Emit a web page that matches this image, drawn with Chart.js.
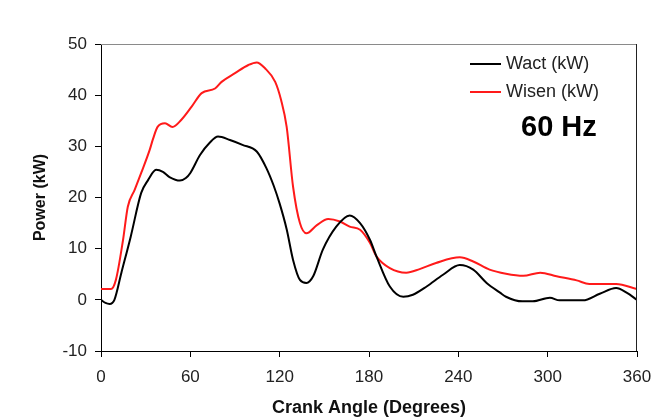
<!DOCTYPE html>
<html>
<head>
<meta charset="utf-8">
<script src="https://cdn.jsdelivr.net/npm/chart.js@4/dist/chart.umd.min.js"></script>
<style>
html,body{margin:0;padding:0;background:#fff;}
canvas{display:block;}
</style>
</head>
<body>
<canvas id="c" width="654" height="419"></canvas>
<script>
const seriesNames = ["Wact (kW)", "Wisen (kW)"];
const annotationText = "60 Hz";
const xTitle = "Crank Angle (Degrees)";
const yTitle = "Power (kW)";

const wactAngles = [0, 3, 5.8, 9, 13.7, 20, 27, 31.6, 37, 41.6, 46, 53, 57, 60, 66.5, 73, 78.6, 86.6, 95, 104.6, 111, 116, 120, 124.7, 129, 133.6, 138, 142.5, 149, 158, 167, 174, 180.7, 185, 194, 203, 209.5, 218.7, 229.7, 241, 250, 259, 268, 272, 283, 290, 301.5, 308, 323.7, 335, 346, 353, 360];
const wactValues = [0, -0.6, -0.8, 0, 5.3, 12.4, 20.9, 23.4, 25.4, 25, 24, 23.3, 23.8, 24.8, 28.3, 30.7, 31.9, 31.25, 30.3, 29, 25.8, 22.3, 18.8, 13.8, 7.8, 3.9, 3.3, 4.6, 9.8, 14.3, 16.5, 15, 11.7, 8.5, 2.6, 0.6, 1, 2.6, 4.9, 6.8, 5.9, 3.3, 1.4, 0.6, -0.3, -0.3, 0.4, -0.1, -0.1, 1.2, 2.3, 1.4, 0];

const wisenAngles = [0, 6.7, 10, 14.8, 18, 22.6, 27, 32.7, 35, 38, 43, 48, 54, 61, 67.6, 76.6, 81, 90, 99, 104.6, 110, 117, 121, 124.7, 129, 133.6, 138, 145, 152.6, 160.5, 167, 174, 180.7, 185, 194, 205, 214, 225, 241, 250, 261, 272, 283.6, 295, 306, 319.5, 328, 346, 360];
const wisenValues = [2.1, 2.1, 3.9, 11.7, 18.2, 21.5, 24.8, 29.3, 31.5, 33.8, 34.5, 33.8, 35.2, 37.8, 40.4, 41.3, 42.6, 44.3, 45.9, 46.4, 45.3, 42.6, 39, 33.8, 22.1, 15, 13, 14.6, 15.8, 15.3, 14.3, 13.7, 11.1, 8.5, 6.2, 5.3, 6, 7.2, 8.3, 7.5, 5.9, 5.1, 4.7, 5.3, 4.6, 3.8, 3.1, 3.1, 2.1];

const xTicks = [0, 60, 120, 180, 240, 300, 360];
const yTicks = [-10, 0, 10, 20, 30, 40, 50];

const seriesColors = ["#000000", "#ff1a1a"];

function pts(xs, ys) { return xs.map((x, i) => ({x: x, y: ys[i]})); }

const FONT = "'Liberation Sans', Arial, sans-serif";

const overlay = {
  id: 'overlay',
  afterDraw(chart) {
    const ctx = chart.ctx;
    const a = chart.chartArea;
    ctx.save();
    ctx.lineWidth = 1;
    ctx.strokeStyle = '#8a8a8a';
    ctx.beginPath();
    ctx.moveTo(a.left, a.top + 0.5);
    ctx.lineTo(a.right, a.top + 0.5);
    ctx.stroke();
    ctx.strokeStyle = '#222';
    ctx.beginPath();
    ctx.moveTo(a.right - 0.5, a.top);
    ctx.lineTo(a.right - 0.5, a.bottom);
    ctx.stroke();
    const rows = [64, 92];
    chart.data.datasets.forEach((ds, i) => {
      const y = rows[i];
      ctx.strokeStyle = ds.borderColor;
      ctx.lineWidth = 2;
      ctx.beginPath();
      ctx.moveTo(470, y);
      ctx.lineTo(501, y);
      ctx.stroke();
      ctx.fillStyle = '#222';
      ctx.font = "18px " + FONT;
      ctx.textAlign = 'left';
      ctx.textBaseline = 'middle';
      ctx.fillText(ds.label, 506, y);
    });
    ctx.fillStyle = '#000';
    ctx.font = "bold 29px " + FONT;
    ctx.textBaseline = 'middle';
    ctx.fillText(annotationText, 521, 128);
    ctx.restore();
  }
};

new Chart(document.getElementById('c'), {
  type: 'line',
  data: {
    datasets: [
      { label: seriesNames[0], data: pts(wactAngles, wactValues), borderColor: seriesColors[0], borderWidth: 2, pointRadius: 0, cubicInterpolationMode: 'monotone', fill: false },
      { label: seriesNames[1], data: pts(wisenAngles, wisenValues), borderColor: seriesColors[1], borderWidth: 2, pointRadius: 0, cubicInterpolationMode: 'monotone', fill: false }
    ]
  },
  options: {
    responsive: false,
    animation: false,
    layout: { padding: { left: 0, right: 17, top: 44, bottom: 0 } },
    plugins: { legend: { display: false }, tooltip: { enabled: false } },
    scales: {
      x: {
        type: 'linear', min: 0, max: 360,
        afterBuildTicks(scale) { scale.ticks = xTicks.map(v => ({value: v})); },
        afterFit(scale) { scale.height = 68; scale.paddingLeft = 0; scale.paddingRight = 0; },
        ticks: { color: '#222', font: { family: FONT, size: 17 }, padding: 10, maxRotation: 0 },
        grid: { drawOnChartArea: false, drawTicks: true, tickLength: 6, color: '#000' },
        border: { display: true, color: '#000', width: 1 },
        title: { display: true, text: xTitle, color: '#111', font: { family: FONT, size: 18, weight: 'bold' }, padding: { top: 0, bottom: 0 } }
      },
      y: {
        type: 'linear', min: -10, max: 50,
        afterBuildTicks(scale) { scale.ticks = yTicks.map(v => ({value: v})); },
        afterFit(scale) { scale.width = 101; scale.paddingTop = 0; scale.paddingBottom = 0; },
        ticks: { color: '#222', font: { family: FONT, size: 17 }, padding: 8 },
        grid: { drawOnChartArea: false, drawTicks: true, tickLength: 6, color: '#000' },
        border: { display: true, color: '#000', width: 1 },
        title: { display: true, text: yTitle, color: '#111', font: { family: FONT, size: 16, weight: 'bold' }, padding: { top: 31, bottom: 0 } }
      }
    }
  },
  plugins: [overlay]
});
</script>
</body>
</html>
